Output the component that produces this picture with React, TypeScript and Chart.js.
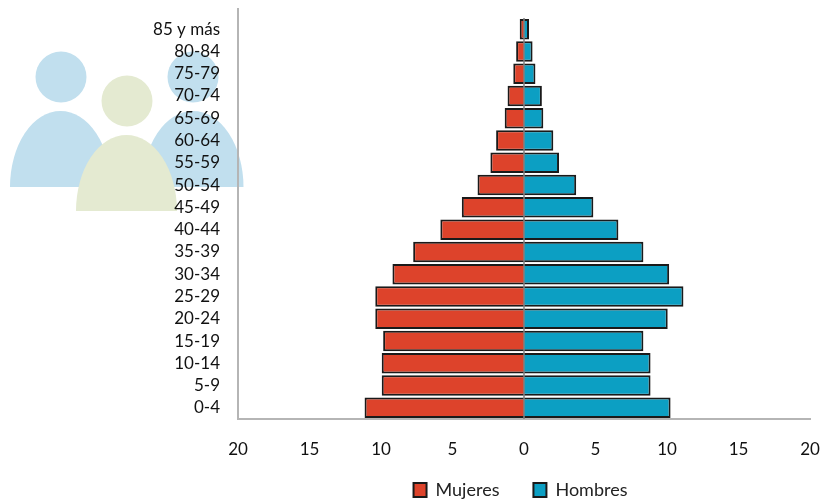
import React, { useEffect, useRef } from "react";
import { Chart, registerables } from "chart.js";

Chart.register(...registerables);

const ageGroups = ["85 y más","80-84","75-79","70-74","65-69","60-64","55-59","50-54","45-49","40-44","35-39","30-34","25-29","20-24","15-19","10-14","5-9","0-4"];
const mujeres = [-0.3,-0.55,-0.75,-1.15,-1.35,-1.95,-2.35,-3.25,-4.35,-5.85,-7.75,-9.2,-10.4,-10.4,-9.85,-9.95,-9.95,-11.15];
const hombres = [0.35,0.6,0.8,1.25,1.35,2.05,2.45,3.65,4.85,6.6,8.35,10.15,11.15,10.05,8.35,8.85,8.85,10.25];

const RED = "#dd432b";
const BLUE = "#0c9fc3";
const EDGE = "#1a1a1a";
const AXIS = "#b5b5b5";
const FONT = "Lato";

const person = (ctx: CanvasRenderingContext2D, cx: number, cy: number, bodyX: number, base: number, color: string) => {
  ctx.fillStyle = color;
  ctx.beginPath();
  ctx.arc(cx, cy, 25.5, 0, Math.PI * 2);
  ctx.fill();
  ctx.beginPath();
  ctx.ellipse(bodyX, base, 50.5, 76, 0, Math.PI, Math.PI * 2);
  ctx.closePath();
  ctx.fill();
};

const decoration = {
  id: "decoration",
  afterLayout(chart: any) {
    const lg = chart.legend;
    lg.top = 447;
    lg.bottom = 500;
    lg.height = 53;
    lg.left -= 7;
  },
  beforeDraw(chart: any) {
    const ctx = chart.ctx;
    ctx.save();
    person(ctx, 61, 77, 60.5, 187, "#c1dfee");
    person(ctx, 193, 77, 193, 187, "#c1dfee");
    person(ctx, 127, 101, 126.5, 211, "#e4ead1");
    ctx.restore();
  },
  afterDatasetsDraw(chart: any) {
    const ctx = chart.ctx;
    const { top, bottom } = chart.chartArea;
    const x0 = chart.scales.x.getPixelForValue(0);
    ctx.save();
    ctx.strokeStyle = "#808080";
    ctx.lineWidth = 1.5;
    ctx.beginPath();
    ctx.moveTo(x0, top);
    ctx.lineTo(x0, bottom);
    ctx.stroke();
    ctx.strokeStyle = AXIS;
    ctx.lineWidth = 2;
    ctx.beginPath();
    ctx.moveTo(chart.chartArea.left, 8);
    ctx.lineTo(chart.chartArea.left, top);
    ctx.stroke();
    ctx.restore();
  },
};

export default function App() {
  const ref = useRef<HTMLCanvasElement>(null);
  useEffect(() => {
    const chart = new Chart(ref.current!, {
      type: "bar",
      data: {
        labels: ageGroups,
        datasets: [
          { label: "Mujeres", data: mujeres, backgroundColor: RED, borderColor: EDGE, borderWidth: 2, categoryPercentage: 0.92, barPercentage: 1 },
          { label: "Hombres", data: hombres, backgroundColor: BLUE, borderColor: EDGE, borderWidth: 2, categoryPercentage: 0.92, barPercentage: 1 },
        ],
      },
      options: {
        indexAxis: "y",
        responsive: false,
        animation: false,
        layout: { padding: { top: 18, right: 10, bottom: 0, left: 0 } },
        scales: {
          x: {
            stacked: true,
            min: -20,
            max: 20,
            afterFit: (s: any) => { s.height = 50; s.paddingLeft = 0; s.paddingRight = 0; },
            grid: { display: false, drawTicks: false },
            border: { color: AXIS, width: 2 },
            ticks: {
              stepSize: 5,
              maxRotation: 0,
              padding: 20,
              color: "#111",
              font: { family: FONT, size: 17 },
              callback: (v: any) => String(Math.abs(Number(v))),
            },
          },
          y: {
            stacked: true,
            afterFit: (s: any) => { s.width = 238; s.paddingTop = 0; s.paddingBottom = 0; },
            grid: { display: false, drawTicks: false },
            border: { color: AXIS, width: 2 },
            ticks: {
              autoSkip: false,
              padding: 18,
              color: "#111",
              font: { family: FONT, size: 17 },
            },
          },
        },
        plugins: {
          tooltip: { enabled: false },
          legend: {
            position: "bottom",
            fullSize: false,
            maxHeight: 31,
            labels: {
              boxWidth: 13,
              boxHeight: 14,
              padding: 34,
              color: "#222",
              font: { family: FONT, size: 18 },
            },
          },
        },
      },
      plugins: [decoration],
    } as any);
    return () => chart.destroy();
  }, []);
  return (
    <div style={{ position: "absolute", left: 0, top: 0, width: 820, height: 500 }}>
      <canvas ref={ref} width={820} height={500} style={{ display: "block" }} />
    </div>
  );
}
